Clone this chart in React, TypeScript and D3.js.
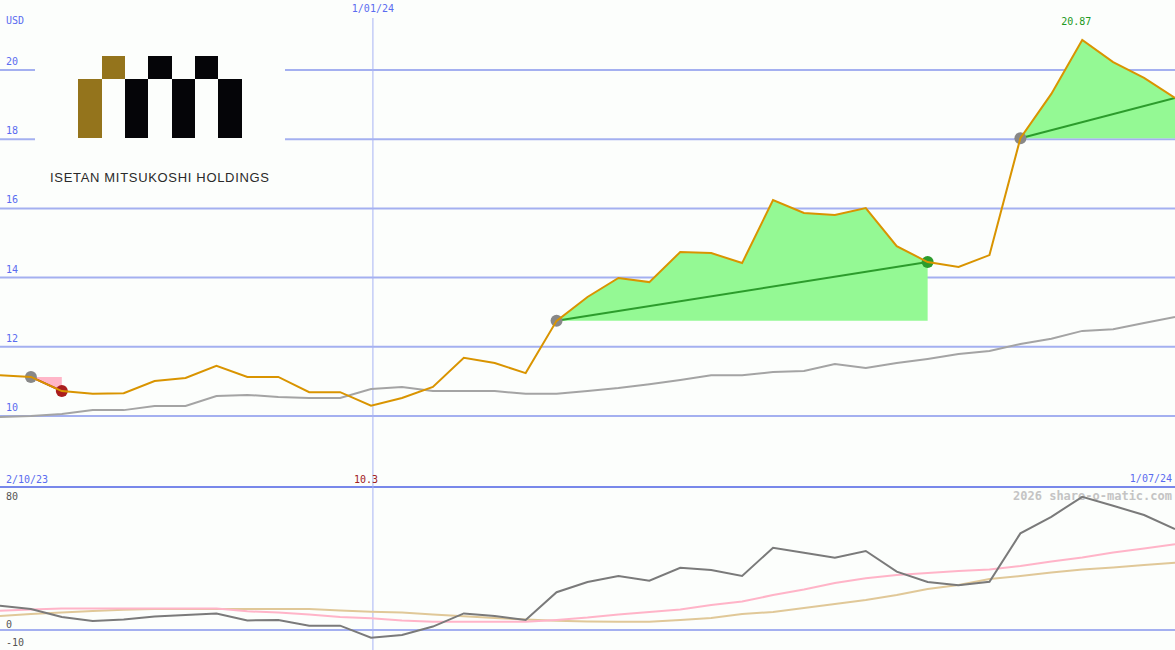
import React from "react";
import * as d3 from "d3";

// ---- data (weekly points, index 0..38) ----
const price = [11.18, 11.13, 10.72, 10.64, 10.66, 11.01, 11.1, 11.45, 11.13, 11.13, 10.69, 10.69, 10.3, 10.52, 10.84, 11.68, 11.53, 11.24, 12.75, 13.44, 13.99, 13.87, 14.74, 14.71, 14.42, 16.24, 15.87, 15.81, 16.01, 14.91, 14.45, 14.31, 14.65, 18.03, 19.31, 20.87, 20.23, 19.77, 19.19];
const avgLine = [9.97, 10.0, 10.06, 10.17, 10.17, 10.29, 10.29, 10.58, 10.61, 10.55, 10.52, 10.52, 10.78, 10.84, 10.72, 10.72, 10.72, 10.64, 10.64, 10.72, 10.81, 10.92, 11.04, 11.18, 11.18, 11.27, 11.3, 11.5, 11.39, 11.53, 11.65, 11.79, 11.88, 12.08, 12.23, 12.46, 12.51, 12.69, 12.86];
const oscDark = [13.5, 11.7, 7.2, 5.0, 5.8, 7.5, 8.3, 9.2, 5.3, 5.6, 2.4, 2.4, -4.3, -2.8, 1.9, 9.2, 7.8, 5.6, 21, 26.7, 30, 27.4, 34.6, 33.3, 30, 45.7, 42.9, 40.2, 43.9, 32.4, 26.7, 24.8, 26.8, 53.7, 62.9, 74, 69, 63.9, 56.1];
const oscPink = [10.7, 11.4, 12, 12, 12, 12, 12, 12, 10.4, 9.7, 8.6, 7.2, 6.5, 5.3, 4.6, 4.6, 4.6, 4.6, 5.6, 6.9, 8.6, 10, 11.4, 13.9, 15.8, 19.4, 22.5, 26.1, 28.7, 30.6, 31.7, 32.8, 33.6, 35.6, 38, 40.3, 43, 45.3, 47.6];
const oscTan = [7.8, 8.9, 9.7, 10.6, 11.3, 11.7, 11.7, 11.7, 11.7, 11.7, 11.7, 10.8, 10.2, 9.7, 8.6, 7.6, 6.7, 5.8, 5.1, 4.7, 4.6, 4.6, 5.6, 6.7, 8.9, 10, 12.2, 14.4, 16.7, 19.4, 22.8, 25, 28.3, 30, 31.9, 33.6, 34.7, 36.1, 37.4];

const priceTicks = [10, 12, 14, 16, 18, 20];
const oscTicks = [80, 0, -10];
const startLabel = "2/10/23";
const endLabel = "1/07/24";
const midLabel = "1/01/24";
const midIndex = 12.06;
const minIndex = 12;
const maxIndex = 35;

// trade segments: [startIdx, endIdx]
const upTrades: [number, number][] = [[18, 30], [33, 38]];
const downTrades: [number, number][] = [[1, 2]];

const W = 1175;
const H = 650;
const BG = "#fcfefc";
const MONO = "'DejaVu Sans Mono', monospace";

export default function App() {
  const x = d3.scaleLinear().domain([0, price.length - 1]).range([0, W]);
  const y = d3.scaleLinear().domain([10, 20]).range([416, 70]);
  const yo = d3.scaleLinear().domain([-10, 80]).range([648, 486]);

  const line = d3.line<number>().x((_, i) => x(i)).y((d) => y(d));
  const oLine = d3.line<number>().x((_, i) => x(i)).y((d) => yo(d));

  const tradeArea = (s: number, e: number) => {
    const idx = d3.range(s, e + 1);
    const base = price[s];
    const area = d3
      .area<number>()
      .x((i) => x(i))
      .y0(() => y(base))
      .y1((i) => y(price[i]));
    return area(idx) || "";
  };

  return (
    <svg
      width={W}
      height={H}
      style={{ position: "absolute", left: 0, top: 0, display: "block", background: BG }}
    >
      <rect x={0} y={0} width={W} height={H} fill={BG} />
      {/* price gridlines */}
      {priceTicks.map((t) => (
        <g key={t}>
          <line x1={0} x2={W} y1={y(t)} y2={y(t)} stroke="#a4b0f0" strokeWidth={2} />
          <text x={6} y={y(t) - 5} fontFamily={MONO} fontSize={10} fill="#5a6cf0">
            {t}
          </text>
        </g>
      ))}
      <text x={6} y={24} fontFamily={MONO} fontSize={10} fill="#5a6cf0">USD</text>

      {/* logo */}
      <rect x={35} y={30} width={250} height={160} fill={BG} />
      <g>
        <rect x={78} y={79} width={24} height={59} fill="#94741c" />
        <rect x={102} y={56} width={23} height={23} fill="#94741c" />
        <rect x={125} y={79} width={23} height={59} fill="#050508" />
        <rect x={148} y={56} width={24} height={23} fill="#050508" />
        <rect x={172} y={79} width={23} height={59} fill="#050508" />
        <rect x={195} y={56} width={23} height={23} fill="#050508" />
        <rect x={218} y={79} width={24} height={59} fill="#050508" />
        <text
          x={50}
          y={182}
          fontFamily="'Liberation Sans', Arial, sans-serif"
          fontSize={13}
          fill="#2a2a2a"
          textLength={219}
          lengthAdjust="spacing"
        >
          ISETAN MITSUKOSHI HOLDINGS
        </text>
      </g>

      {/* oscillator panel */}
      <line x1={0} x2={W} y1={yo(0)} y2={yo(0)} stroke="#a4b0f0" strokeWidth={2} />
      <line x1={0} x2={W} y1={487} y2={487} stroke="#7888ea" strokeWidth={2} />
      {oscTicks.map((t) => (
        <text
          key={t}
          x={6}
          y={t === 80 ? yo(t) + 14 : yo(t) - 2}
          fontFamily={MONO}
          fontSize={10}
          fill="#555"
        >
          {t}
        </text>
      ))}
      <text x={1172} y={500} textAnchor="end" fontFamily={MONO} fontSize={12} fontWeight="bold" fill="#c4c4c4">
        2026 share-o-matic.com
      </text>

      {/* mid date vertical line */}
      <line x1={x(midIndex)} x2={x(midIndex)} y1={18} y2={H} stroke="#a8b4f4" strokeWidth={1} />
      <text x={x(midIndex)} y={12} textAnchor="middle" fontFamily={MONO} fontSize={10} fill="#5a6cf0">
        {midLabel}
      </text>
      <text x={6} y={483} fontFamily={MONO} fontSize={10} fill="#5a6cf0">{startLabel}</text>
      <text x={1172} y={482} textAnchor="end" fontFamily={MONO} fontSize={10} fill="#5a6cf0">{endLabel}</text>
      <text x={x(minIndex) - 5} y={483} textAnchor="middle" fontFamily={MONO} fontSize={10} fill="#a02020">
        {price[minIndex].toFixed(1)}
      </text>

      {/* oscillator lines */}
      <path d={oLine(oscTan) || ""} fill="none" stroke="#e0c898" strokeWidth={2} />
      <path d={oLine(oscPink) || ""} fill="none" stroke="#ffb4c8" strokeWidth={2} />
      <path d={oLine(oscDark) || ""} fill="none" stroke="#7a7a7a" strokeWidth={2} />

      {/* trade fills */}
      {upTrades.map(([s, e]) => (
        <path key={"u" + s} d={tradeArea(s, e)} fill="#94f994" />
      ))}
      {downTrades.map(([s, e]) => (
        <path key={"d" + s} d={tradeArea(s, e)} fill="#ffb6c8" />
      ))}

      {/* average line */}
      <path d={line(avgLine) || ""} fill="none" stroke="#a4a4a4" strokeWidth={2} />

      {/* trade lines */}
      {upTrades.map(([s, e]) => (
        <line key={"ul" + s} x1={x(s)} y1={y(price[s])} x2={x(e)} y2={y(price[e])} stroke="#2c9c2c" strokeWidth={2} />
      ))}
      {downTrades.map(([s, e]) => (
        <line key={"dl" + s} x1={x(s)} y1={y(price[s])} x2={x(e)} y2={y(price[e])} stroke="#aa1d1d" strokeWidth={2} />
      ))}

      {/* markers */}
      {[...upTrades, ...downTrades].map(([s]) => (
        <circle key={"ms" + s} cx={x(s)} cy={y(price[s])} r={6} fill="#888888" />
      ))}
      {downTrades.map(([, e]) => (
        <circle key={"me" + e} cx={x(e)} cy={y(price[e])} r={6} fill="#aa1d1d" />
      ))}
      {upTrades
        .filter(([, e]) => e < price.length - 1)
        .map(([, e]) => (
          <circle key={"mu" + e} cx={x(e)} cy={y(price[e])} r={6} fill="#2c9c2c" />
        ))}

      {/* price line */}
      <path d={line(price) || ""} fill="none" stroke="#d99400" strokeWidth={2} />

      <text x={x(maxIndex) - 6} y={25} textAnchor="middle" fontFamily={MONO} fontSize={10} fill="#229922">
        {price[maxIndex].toFixed(2)}
      </text>
    </svg>
  );
}
